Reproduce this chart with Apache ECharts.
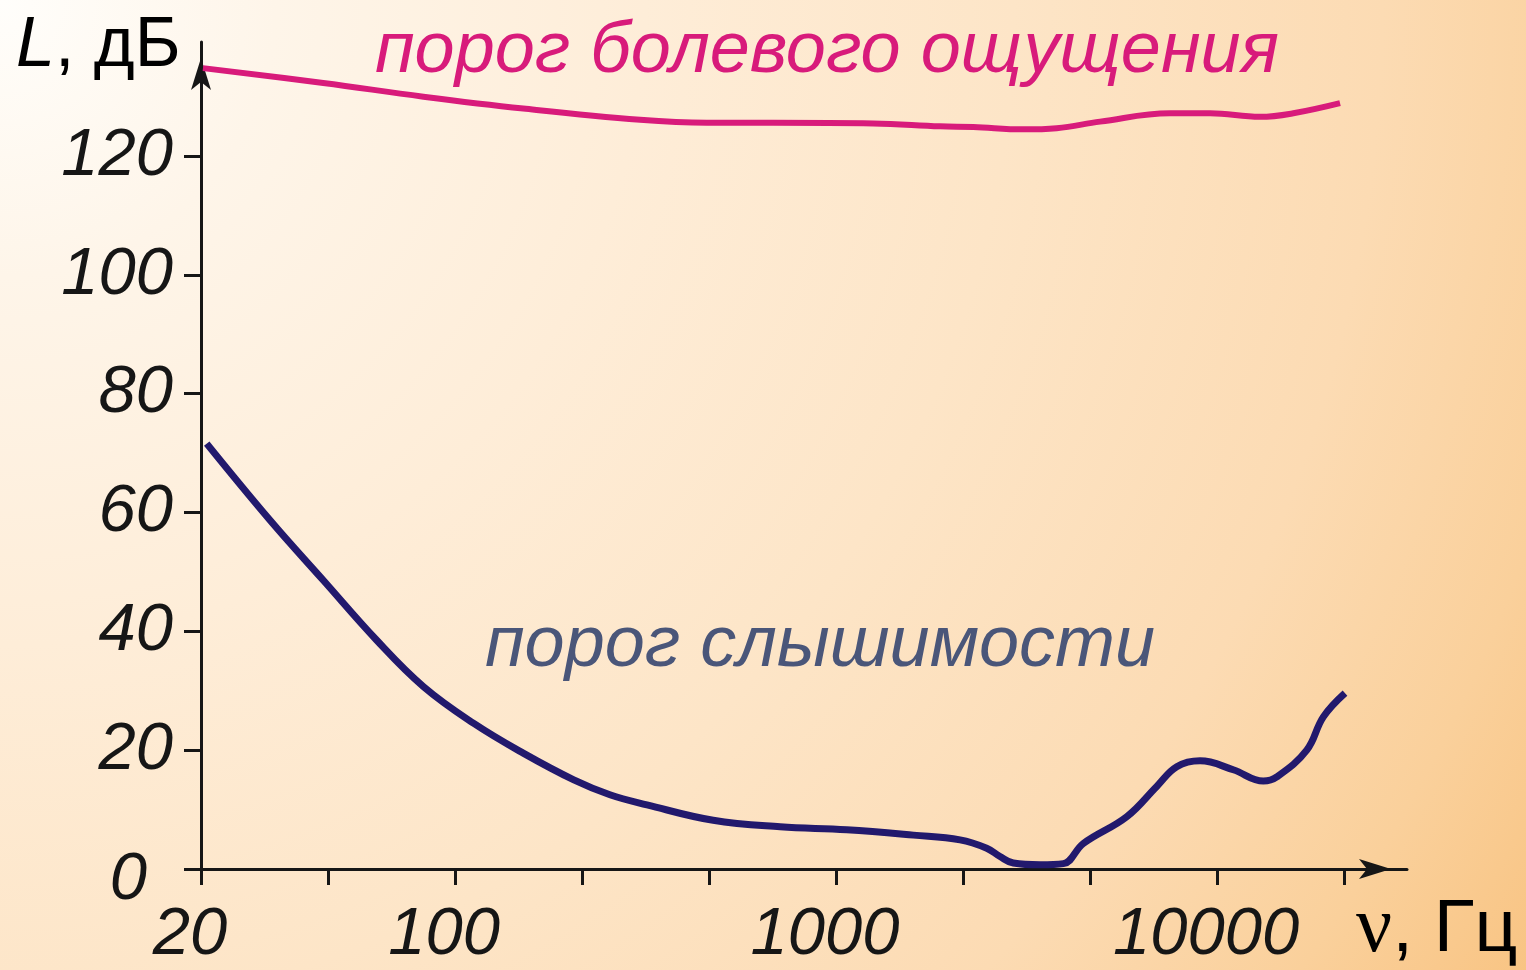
<!DOCTYPE html>
<html>
<head>
<meta charset="utf-8">
<script src="https://cdn.jsdelivr.net/npm/echarts@6/dist/echarts.min.js"></script>
<style>
  html, body { margin: 0; padding: 0; }
  #chart { width: 1526px; height: 970px; }
</style>
</head>
<body>
<div id="chart"></div>
<script>
// Threshold of hearing (Hz, dB)
const hearingFreq = [22.3, 32.7, 45.1, 62.3, 82.6, 112, 151, 205, 255, 319, 476, 713, 1067, 1596, 2116, 2486, 2694, 2920, 3431, 3951, 4457, 5794, 6946, 7840, 9023, 11030, 13230, 14350, 17200, 19010, 21670];
const hearingLevel = [71.6, 58.7, 48.6, 38.5, 30.7, 24.5, 19.5, 15.0, 12.5, 10.8, 8.2, 7.1, 6.6, 5.7, 4.9, 3.5, 2.1, 1.0, 0.7, 0.9, 4.3, 8.8, 13.9, 17.2, 18.2, 16.7, 14.8, 15.5, 20.0, 25.6, 29.6];

// Threshold of pain (Hz, dB)
const painFreq = [21.8, 45.1, 82.6, 151, 306, 458, 685, 1253, 1875, 2292, 3101, 3794, 4932, 7526, 9585, 12970, 15860, 21030];
const painLevel = [134.8, 132.3, 130.0, 128.0, 126.1, 125.6, 125.6, 125.5, 125.0, 124.9, 124.5, 124.7, 125.8, 127.2, 127.2, 126.6, 127.2, 128.9];

// Axis ticks: every third of a decade on x, every 20 dB on y
const xTickValues = [21.55, 46.42, 100, 215.4, 464.2, 1000, 2154, 4642, 10000, 21544];
const xLabelValues = [21.55, 100, 1000, 10000];
const yTickValues = [0, 20, 40, 60, 80, 100, 120];

const labelFont = 'Liberation Sans';
const axisColor = '#161616';

function pairs(xs, ys) {
  return xs.map((x, i) => [x, ys[i]]);
}

const chart = echarts.init(document.getElementById('chart'), null, { renderer: 'canvas' });

chart.setOption({
  animation: false,
  // warm glow spreading from the top-left corner
  backgroundColor: {
    type: 'radial', x: 0, y: 0, r: 1.9,
    colorStops: [
      { offset: 0, color: '#fffefb' },
      { offset: 0.15, color: '#fef5e9' },
      { offset: 0.35, color: '#feedd8' },
      { offset: 0.55, color: '#fde5c7' },
      { offset: 0.75, color: '#fcdbb3' },
      { offset: 0.88, color: '#fad09b' },
      { offset: 1, color: '#f8c27f' }
    ]
  },
  grid: { left: 201, right: 119, top: 42, bottom: 101, containLabel: false },
  xAxis: {
    type: 'log',
    logBase: 10,
    min: 21.54,
    max: 31520,
    axisLine: {
      show: true,
      symbol: ['none', 'arrow'],
      symbolSize: [15, 32],
      symbolOffset: [0, -16],
      lineStyle: { color: axisColor, width: 3 }
    },
    axisTick: {
      show: true,
      inside: false,
      length: 16,
      customValues: xTickValues,
      lineStyle: { color: axisColor, width: 3 }
    },
    axisLabel: {
      customValues: xLabelValues,
      margin: 33,
      fontFamily: labelFont,
      fontStyle: 'italic',
      fontSize: 67,
      lineHeight: 67,
      padding: [0, 22, 0, 0],
      color: axisColor,
      formatter: v => (v < 30 ? '20' : String(Math.round(v)))
    },
    splitLine: { show: false }
  },
  yAxis: {
    type: 'value',
    min: 0,
    max: 139.2,
    axisLine: {
      show: true,
      symbol: ['none', 'arrow'],
      symbolSize: [15, 32],
      symbolOffset: [0, -16],
      lineStyle: { color: axisColor, width: 3 }
    },
    axisTick: {
      show: true,
      inside: false,
      length: 17,
      customValues: yTickValues,
      lineStyle: { color: axisColor, width: 3 }
    },
    axisLabel: {
      customValues: yTickValues,
      margin: 28,
      fontFamily: labelFont,
      fontStyle: 'italic',
      fontSize: 67,
      color: axisColor,
      formatter: v => (v === 0 ? '{z|0}' : String(v)),
      rich: {
        z: {
          fontFamily: labelFont,
          fontStyle: 'italic',
          fontSize: 67,
          color: axisColor,
          padding: [22, 26, 0, 0]
        }
      }
    },
    splitLine: { show: false }
  },
  series: [
    {
      name: 'порог болевого ощущения',
      type: 'line',
      data: pairs(painFreq, painLevel),
      smooth: 0.4,
      showSymbol: false,
      lineStyle: { color: '#d81b7b', width: 6 },
      z: 3
    },
    {
      name: 'порог слышимости',
      type: 'line',
      data: pairs(hearingFreq, hearingLevel),
      smooth: 0.4,
      showSymbol: false,
      lineStyle: { color: '#22196d', width: 7 },
      z: 3
    }
  ],
  graphic: [
    {
      type: 'text',
      left: 16,
      top: 12,
      style: {
        text: '{i|L}{n|, дБ}',
        rich: {
          i: { fontFamily: labelFont, fontStyle: 'italic', fontSize: 70, color: axisColor },
          n: { fontFamily: labelFont, fontSize: 70, color: axisColor }
        }
      }
    },
    {
      type: 'text',
      left: 1356,
      top: 890,
      style: {
        text: '{v|ν}{n|, Гц}',
        rich: {
          v: { fontFamily: 'Liberation Serif', fontSize: 80, color: axisColor },
          n: { fontFamily: labelFont, fontSize: 75, color: axisColor }
        }
      }
    },
    {
      type: 'text',
      left: 375,
      top: 16,
      style: {
        text: 'порог болевого ощущения',
        fontFamily: labelFont,
        fontStyle: 'italic',
        fontSize: 72,
        fill: '#d81b7b'
      }
    },
    {
      type: 'text',
      left: 485,
      top: 610,
      style: {
        text: 'порог слышимости',
        fontFamily: labelFont,
        fontStyle: 'italic',
        fontSize: 72,
        fill: '#4a5679'
      }
    }
  ]
});
</script>
</body>
</html>
